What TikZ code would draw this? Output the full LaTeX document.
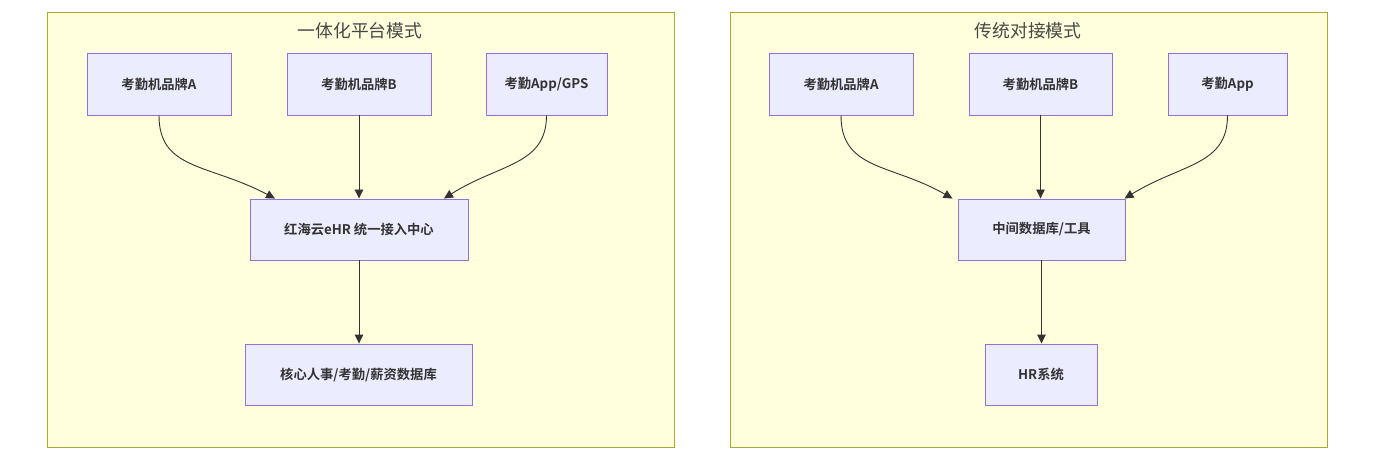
\documentclass[tikz,border=0pt]{standalone}
\usepackage{fontspec}
\setmainfont{Noto Sans CJK SC}
\newfontfamily\cjkb{Noto Sans CJK SC Bold}
\usetikzlibrary{arrows.meta,calc}
\definecolor{clfill}{HTML}{FFFFDE}
\definecolor{clline}{HTML}{AAAA33}
\definecolor{ndfill}{HTML}{ECECFF}
\definecolor{ndline}{HTML}{9370DB}
\definecolor{edge}{HTML}{333333}
\newcommand{\lowr}[1]{\raisebox{-1.5pt}{#1}}
\tikzset{
  cluster/.style={draw=clline,fill=clfill,line width=0.9pt},
  box/.style={draw=ndline,fill=ndfill,line width=0.9pt,inner sep=0pt,font=\cjkb\fontsize{13.3}{15}\selectfont,text=edge},
  ttl/.style={font=\fontsize{17.8}{20}\selectfont,text=edge!90},
  conn/.style={draw=edge,line width=0.9pt,-{Triangle[length=9pt,width=8.5pt]}}
}
\begin{document}
\begin{tikzpicture}[x=1pt,y=-1pt]
\useasboundingbox (0,0) rectangle (1380,462);
\fill[white] (0,0) rectangle (1380,462);
% clusters
\path[cluster] (47,12) rectangle (674,447);
\path[cluster] (730,12) rectangle (1327,447);
\node[ttl] (t1) at (360,31) {一体化平台模式};
\node[ttl] (t2) at (1028,31) {传统对接模式};
% left nodes
\node[box,minimum width=144pt,minimum height=62pt] (la) at (159,84) {\lowr{考勤机品牌A}};
\node[box,minimum width=144pt,minimum height=62pt] (lb) at (359,84) {\lowr{考勤机品牌B}};
\node[box,minimum width=121pt,minimum height=62pt] (lc) at (546.5,84) {\lowr{考勤App/GPS}};
\node[box,minimum width=218pt,minimum height=61pt] (lh) at (359,229.5) {\lowr{红海云eHR 统一接入中心}};
\node[box,minimum width=227pt,minimum height=61pt] (ld) at (358.5,374.5) {\lowr{核心人事/考勤/薪资数据库}};
% right nodes
\node[box,minimum width=144pt,minimum height=62pt] (ra) at (841,84) {\lowr{考勤机品牌A}};
\node[box,minimum width=143pt,minimum height=62pt] (rb) at (1040.5,84) {\lowr{考勤机品牌B}};
\node[box,minimum width=119pt,minimum height=62pt] (rc) at (1227.5,84) {\lowr{考勤App}};
\node[box,minimum width=167pt,minimum height=61pt] (rm) at (1041.5,229.5) {\lowr{中间数据库/工具}};
\node[box,minimum width=112pt,minimum height=61pt] (rh) at (1041,374.5) {\lowr{HR系统}};
% left edges
\draw[conn] (la.south) .. controls ($(la.south)+(0,55)$) and ($(lh.north)+(-150,-35)$) .. ($(lh.north)+(-84,0)$);
\draw[conn] (lb.south) -- (lh.north);
\draw[conn] (lc.south) .. controls ($(lc.south)+(0,50)$) and ($(lh.north)+(140,-35)$) .. ($(lh.north)+(85,0)$);
\draw[conn] (lh.south) -- (lh.south |- ld.north);
% right edges
\draw[conn] (ra.south) .. controls ($(ra.south)+(0,55)$) and ($(rm.north)+(-150,-35)$) .. ($(rm.north)+(-89,0)$);
\draw[conn] (rb.south) -- (rb.south |- rm.north);
\draw[conn] (rc.south) .. controls ($(rc.south)+(0,50)$) and ($(rm.north)+(140,-35)$) .. ($(rm.north)+(83,0)$);
\draw[conn] (rm.south) -- (rm.south |- rh.north);
\end{tikzpicture}
\end{document}
